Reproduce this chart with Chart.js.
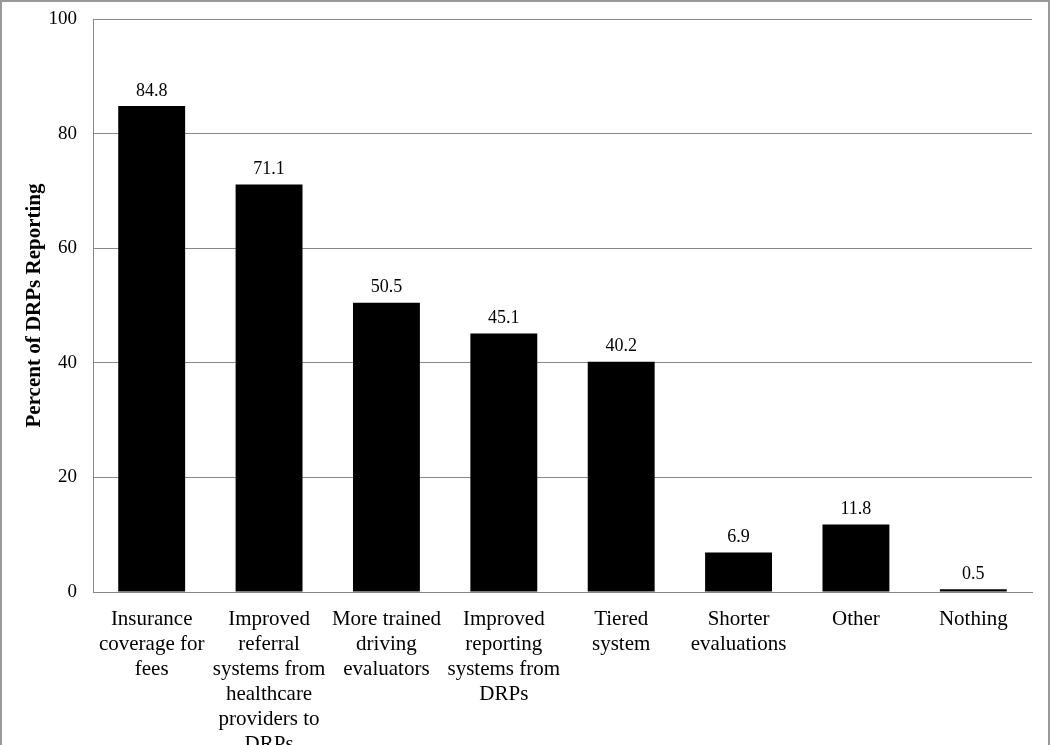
<!DOCTYPE html>
<html>
<head>
    <meta charset="UTF-8">
    <title>Percent of DRPs Reporting</title>
    <script src="https://cdn.jsdelivr.net/npm/chart.js"></script>
    <style>
        html, body { margin: 0; padding: 0; background: #fff; overflow: hidden; }
        #box {
            width: 1046px; height: 800px;
            border: 2px solid #999;
            position: absolute; left: 0; top: 0;
            overflow: hidden;
        }
    </style>
</head>
<body>
<div id="box">
    <canvas id="chart" width="1046" height="790"></canvas>
</div>

<script>
    // Kategorien (mehrzeilig wie im Original)
    const categories = [
        ["Insurance", "coverage for", "fees"],
        ["Improved", "referral", "systems from", "healthcare", "providers to", "DRPs"],
        ["More trained", "driving", "evaluators"],
        ["Improved", "reporting", "systems from", "DRPs"],
        ["Tiered", "system"],
        ["Shorter", "evaluations"],
        ["Other"],
        ["Nothing"]
    ];
    const percentReporting = [84.8, 71.1, 50.5, 45.1, 40.2, 6.9, 11.8, 0.5];
    const yTicks = [0, 20, 40, 60, 80, 100];

    const serif = "'Liberation Serif', 'Times New Roman', serif";

    // Werte über den Balken zeichnen
    const valueLabels = {
        id: 'valueLabels',
        afterDatasetsDraw(chart) {
            const ctx = chart.ctx;
            const meta = chart.getDatasetMeta(0);
            ctx.save();
            ctx.font = "18px " + serif;
            ctx.fillStyle = "#000";
            ctx.textAlign = "center";
            ctx.textBaseline = "middle";
            meta.data.forEach((bar, i) => {
                ctx.fillText(percentReporting[i].toFixed(1), bar.x, bar.y - 15);
            });
            ctx.restore();
        }
    };

    new Chart(document.getElementById("chart").getContext("2d"), {
        type: 'bar',
        data: {
            labels: categories,
            datasets: [{
                data: percentReporting,
                backgroundColor: '#000',
                borderWidth: 0,
                barPercentage: 0.57,
                categoryPercentage: 1
            }]
        },
        options: {
            responsive: false,
            animation: false,
            layout: { padding: { top: 17, right: 16, left: 0, bottom: 0 } },
            plugins: {
                legend: { display: false },
                tooltip: { enabled: false }
            },
            scales: {
                x: {
                    grid: { display: false, drawTicks: false },
                    border: { color: '#888', width: 1 },
                    ticks: {
                        color: '#000',
                        font: { family: serif, size: 21, lineHeight: 1.19 },
                        padding: 15,
                        maxRotation: 0,
                        autoSkip: false
                    },
                    afterFit(axis) {
                        axis.height = 200;
                        axis.paddingLeft = 0;
                        axis.paddingRight = 0;
                    }
                },
                y: {
                    min: 0,
                    max: 100,
                    afterBuildTicks(axis) { axis.ticks = yTicks.map(v => ({ value: v })); },
                    grid: { color: '#888', lineWidth: 1, drawTicks: false },
                    border: { color: '#888', width: 1 },
                    ticks: {
                        color: '#000',
                        font: { family: serif, size: 19 },
                        padding: 16
                    },
                    title: {
                        display: true,
                        text: 'Percent of DRPs Reporting',
                        color: '#000',
                        font: { family: serif, size: 21, weight: 'bold' },
                        padding: { top: 20, bottom: 0 }
                    },
                    afterFit(axis) {
                        axis.width = 91;
                        axis.paddingTop = 0;
                        axis.paddingBottom = 0;
                    }
                }
            }
        },
        plugins: [valueLabels]
    });
</script>
</body>
</html>
